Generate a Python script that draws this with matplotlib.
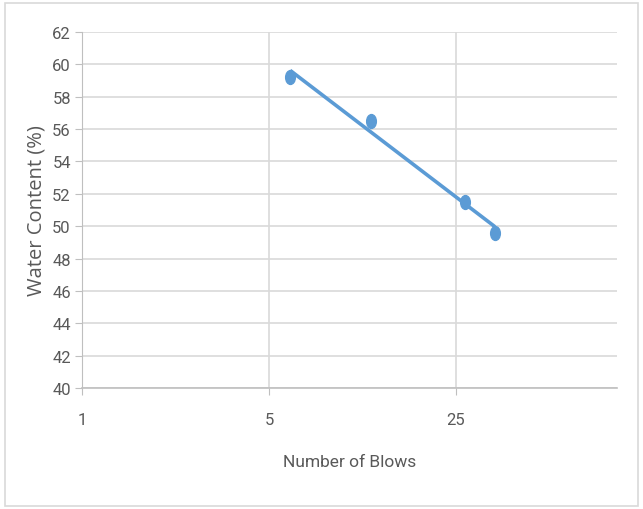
import numpy as np
import matplotlib
matplotlib.use('Agg')
import matplotlib.pyplot as plt
import matplotlib.ticker as ticker
from matplotlib.patches import Rectangle
from matplotlib.path import Path
from matplotlib.transforms import Affine2D

# Liquid limit test: blows vs water content
golpes = [6, 12, 27, 35]
umidade = [59.2, 56.5, 51.5, 49.6]
ticks_x = [1, 5, 25]
ticks_y = list(range(40, 63, 2))

AZUL = '#5B9BD5'
CINZA_TXT = '#595959'
CINZA_GRADE = '#D9D9D9'

plt.rcParams['font.family'] = ['Roboto', 'DejaVu Sans']

# marcador levemente oval
oval = Path.unit_circle().transformed(Affine2D().scale(0.7, 1.0))

fig = plt.figure(figsize=(6.43, 5.10), dpi=100)
ax = fig.add_axes([82 / 643, 1 - 389 / 510, (617 - 82) / 643, (389 - 33) / 510])

# tendencia logaritmica (ajuste linear em ln x)
coef = np.polyfit(np.log(golpes), umidade, 1)
xt = np.array([min(golpes), max(golpes)], dtype=float)
ax.plot(xt, coef[0] * np.log(xt) + coef[1], color=AZUL, linewidth=2.6,
        solid_capstyle='butt', zorder=3)
ax.plot(golpes, umidade, linestyle='none', marker=oval, color=AZUL,
        markersize=10, zorder=4)

ax.set_xscale('log', base=5)
ax.set_xlim(1, 100)
ax.set_ylim(40, 62)
ax.set_xticks(ticks_x)
ax.xaxis.set_major_formatter(ticker.FuncFormatter(lambda v, p: f'{v:g}'))
ax.xaxis.set_minor_locator(ticker.NullLocator())
ax.set_yticks(ticks_y)

ax.grid(True, color=CINZA_GRADE, linewidth=1.2)
ax.set_axisbelow(True)
for lado in ['top', 'right']:
    ax.spines[lado].set_visible(False)
ax.spines['left'].set_color('#BFBFBF')
ax.spines['bottom'].set_color('#BFBFBF')
ax.spines['bottom'].set_linewidth(1.2)
ax.tick_params(axis='y', colors='#BFBFBF', labelcolor=CINZA_TXT, labelsize=12,
               length=5, pad=3)
ax.tick_params(axis='x', colors='#BFBFBF', labelcolor=CINZA_TXT, labelsize=12,
               length=5, pad=12)

ax.set_xlabel('Number of Blows', fontsize=12.5, color=CINZA_TXT, labelpad=20)
ax.set_ylabel('Water Content (%)', fontsize=14.5, color=CINZA_TXT,
              family=['Open Sans', 'DejaVu Sans'], labelpad=4)

fig.patches.append(Rectangle((5 / 643, 3 / 510), 633 / 643, 503 / 510,
                             transform=fig.transFigure, fill=False,
                             edgecolor='#D9D9D9', linewidth=1.2))

plt.savefig('out.png', dpi=100)
plt.close()
